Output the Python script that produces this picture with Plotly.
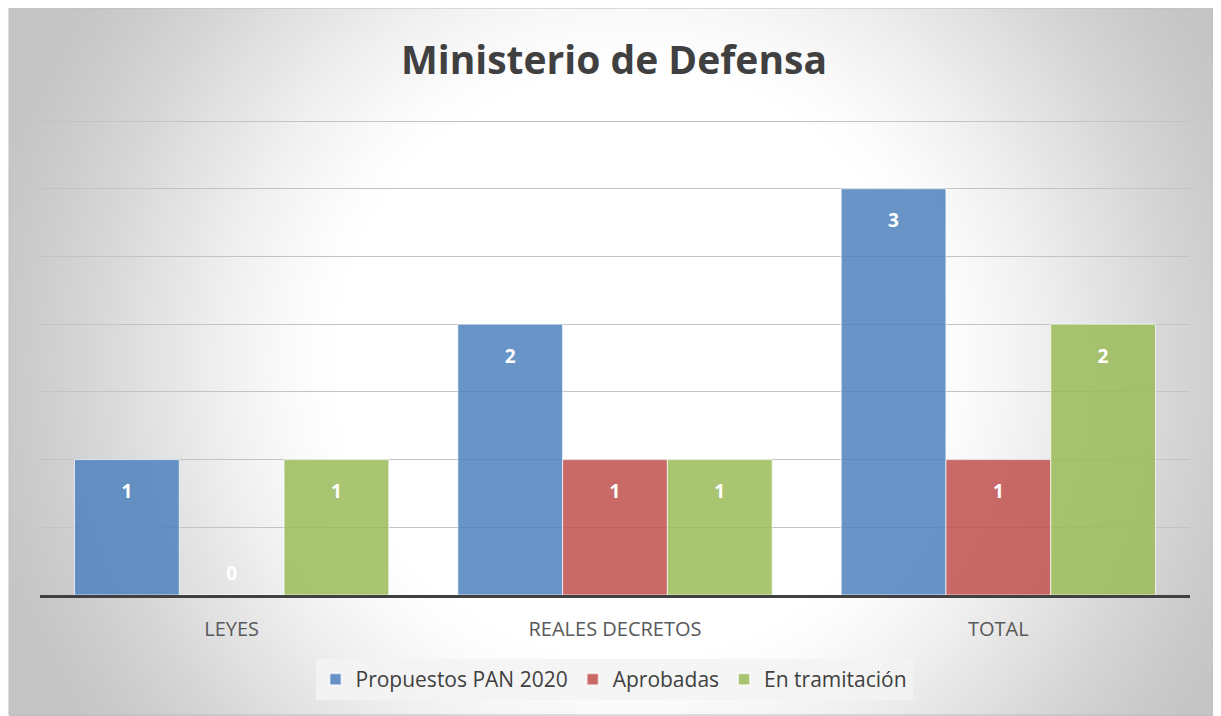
import base64
import struct
import zlib

import numpy as np
import plotly.graph_objects as go

# ---- data ----
categories = ["LEYES", "REALES DECRETOS", "TOTAL"]
propuestos = [1, 2, 3]
aprobadas = [0, 1, 1]
en_tramitacion = [1, 1, 2]
series_names = ["Propuestos PAN 2020", "Aprobadas", "En tramitación"]
title_text = "Ministerio de Defensa"

# ---- geometry (page has an 8px body margin) ----
OFF = 8
W, H = 1213, 708
ML, MR, MT, MB = 32, 31, 111, 121
PW, PH = W - ML - MR, H - MT - MB
Y_MAX = 3.515


def px_x(px):
    """reference-page pixel -> paper x"""
    return (px - OFF - ML) / PW


def px_y(py):
    """reference-page pixel -> paper y"""
    return (H - MB - (py - OFF)) / PH


# ---- radial gradient background as PNG ----
def make_png(arr):
    h, w = arr.shape
    raw = b"".join(b"\x00" + arr[i].tobytes() for i in range(h))

    def chunk(tag, data):
        c = struct.pack(">I", len(data)) + tag + data
        return c + struct.pack(">I", zlib.crc32(tag + data) & 0xFFFFFFFF)

    png = b"\x89PNG\r\n\x1a\n"
    png += chunk(b"IHDR", struct.pack(">IIBBBBB", w, h, 8, 0, 0, 0, 0))
    png += chunk(b"IDAT", zlib.compress(raw, 9))
    png += chunk(b"IEND", b"")
    return "data:image/png;base64," + base64.b64encode(png).decode()


BW, BH = 1212, 708
scale = 4
gw, gh = BW // scale, BH // scale
yy, xx = np.mgrid[0:gh, 0:gw].astype(float)
cx, cy = 620 / scale, 354 / scale
r = np.hypot(xx - cx, yy - cy) * scale
r0, r1 = 300.0, 670.0
t = np.clip((r - r0) / (r1 - r0), 0, 1)
t = t * t * (3 - 2 * t) * 0.5 + t * 0.5
val = 255 - 58 * t
bg_src = make_png(val.astype(np.uint8))

colors = ["rgba(79,129,189,0.85)", "rgba(192,80,77,0.85)", "rgba(155,187,89,0.85)"]
all_series = [propuestos, aprobadas, en_tramitacion]

FONT = "Open Sans"
NB = "\u00a0"
top_pad = f"<span style='font-size:10px'>{NB}</span><br>"
side_pad = f"<span style='font-size:40px'>{NB}</span>"


def label(v):
    if v == 0:
        return side_pad + str(v) + side_pad
    return top_pad + str(v)


fig = go.Figure()
for name, vals, col in zip(series_names, all_series, colors):
    fig.add_trace(
        go.Bar(
            x=categories,
            y=vals,
            name=name,
            marker=dict(color=col, line=dict(color="rgba(255,255,255,0.7)", width=1)),
            text=[label(v) for v in vals],
            textposition=["outside" if v == 0 else "inside" for v in vals],
            insidetextanchor="end",
            textfont=dict(family=FONT, size=19, color="white", weight="bold"),
            outsidetextfont=dict(family=FONT, size=19, color="white", weight="bold"),
            cliponaxis=False,
        )
    )

fig.update_layout(
    width=W,
    height=H,
    margin=dict(l=ML, r=MR, t=MT, b=MB),
    paper_bgcolor="white",
    plot_bgcolor="rgba(0,0,0,0)",
    barmode="group",
    bargap=0.18,
    bargroupgap=0,
    font=dict(family=FONT, color="#404040"),
    title=dict(
        text=title_text,
        x=px_x(614),
        xanchor="center",
        y=1 - (60 - OFF) / H,
        yanchor="middle",
        yref="container",
        xref="paper",
        font=dict(family=FONT, size=39, color="#404040", weight="bold"),
    ),
    xaxis=dict(
        showline=True,
        linecolor="#404040",
        linewidth=3,
        ticks="",
        showgrid=False,
        tickfont=dict(family=FONT, size=20, color="#595959"),
        ticklabelstandoff=14,
    ),
    yaxis=dict(
        range=[0, Y_MAX],
        dtick=0.5,
        showticklabels=False,
        showgrid=True,
        gridcolor="#c3c3c3",
        gridwidth=1,
        zeroline=False,
        ticks="",
    ),
    legend=dict(
        orientation="h",
        x=px_x(614),
        xanchor="center",
        y=px_y(659),
        yanchor="top",
        bgcolor="rgba(243,243,243,0.85)",
        font=dict(family=FONT, size=21, color="#404040"),
        itemsizing="constant",
    ),
    images=[
        dict(
            source=bg_src,
            xref="paper",
            yref="paper",
            x=px_x(9),
            y=px_y(8),
            sizex=BW / PW,
            sizey=BH / PH,
            xanchor="left",
            yanchor="top",
            sizing="stretch",
            layer="below",
        )
    ],
    shapes=[
        dict(
            type="rect",
            xref="paper",
            yref="paper",
            x0=px_x(9),
            x1=px_x(1220),
            y0=px_y(715),
            y1=px_y(8),
            line=dict(color="#bdbdbd", width=1),
            fillcolor="rgba(0,0,0,0)",
        )
    ],
)

fig.write_html("out.html")
